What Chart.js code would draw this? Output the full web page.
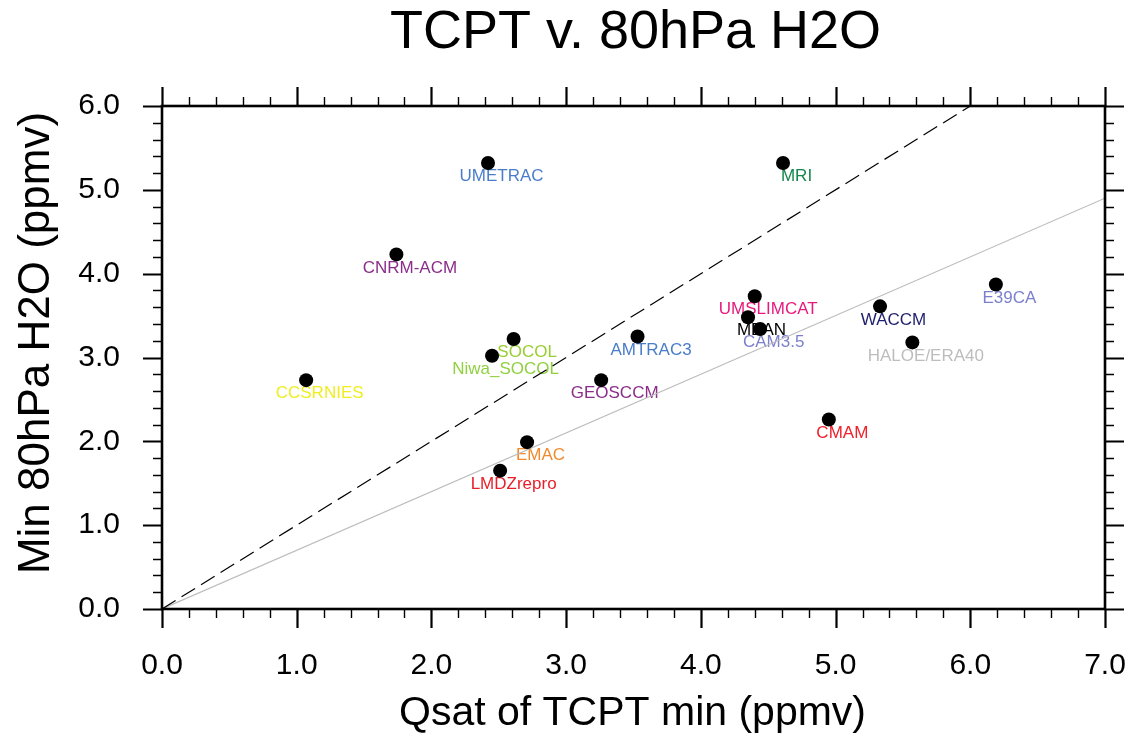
<!DOCTYPE html>
<html>
<head>
<meta charset="utf-8">
<title>TCPT v. 80hPa H2O</title>
<script src="https://cdn.jsdelivr.net/npm/chart.js@4.4.1/dist/chart.umd.min.js"></script>
<style>
  html, body { margin: 0; padding: 0; background: #ffffff; }
  canvas { display: block; }
</style>
</head>
<body>
<canvas id="chart" width="1131" height="742"></canvas>
<script>
// Model names, Qsat at the cold-point minimum (x) and min 80 hPa water vapour (y), ppmv
const models = ['UMETRAC', 'MRI', 'CNRM-ACM', 'E39CA', 'UMSLIMCAT', 'WACCM', 'MEAN',
  'CAM3.5', 'AMTRAC3', 'SOCOL', 'Niwa_SOCOL', 'CCSRNIES', 'GEOSCCM', 'HALOE/ERA40',
  'CMAM', 'EMAC', 'LMDZrepro'];
const qsatMin = [2.42, 4.61, 1.74, 6.19, 4.40, 5.33, 4.35,
  4.44, 3.53, 2.61, 2.45, 1.07, 3.26, 5.57,
  4.95, 2.71, 2.51];
const h2oMin = [5.32, 5.32, 4.23, 3.87, 3.73, 3.61, 3.48,
  3.34, 3.25, 3.22, 3.02, 2.73, 2.73, 3.18,
  2.26, 1.99, 1.65];
const labelColors = ['#4a7dc9', '#14874a', '#8b2e8b', '#7b7fcc', '#e8197d', '#1f1f6e', '#000000',
  '#7b7fcc', '#4a7dc9', '#9acd32', '#8fd13f', '#eeee22', '#8b2e8b', '#bdbdbd',
  '#f0202a', '#f28a2e', '#e8202a'];

// Reference lines: 1:1 line and a 0.7 slope line through the origin
const oneToOneX = [0, 6];
const oneToOneY = [0, 6];
const slopeLineX = [0, 7];
const slopeLineY = [0, 4.9];

// Axis ranges and tick spacing
const xRange = [0, 7];
const yRange = [0, 6];
const majorStep = 1;
const minorStep = 0.2;

const FONT = '"Liberation Sans", Arial, Helvetica, sans-serif';
const titleText = 'TCPT v. 80hPa H2O';
const xTitleText = 'Qsat of TCPT min (ppmv)';
const yTitleText = 'Min 80hPa H2O (ppmv)';

const toXY = (xs, ys) => xs.map((x, i) => ({ x: x, y: ys[i] }));

// Point labels: drawn below-right of each marker, underneath the markers
const pointLabels = {
  id: 'pointLabels',
  beforeDatasetsDraw(chart) {
    const ctx = chart.ctx;
    const meta = chart.getDatasetMeta(0);
    ctx.save();
    ctx.font = '17px ' + FONT;
    ctx.textAlign = 'center';
    ctx.textBaseline = 'middle';
    meta.data.forEach((pt, i) => {
      ctx.fillStyle = labelColors[i];
      ctx.fillText(models[i], pt.x + 13.5, pt.y + 13.5);
    });
    ctx.restore();
  }
};

// Frame, outward ticks on all four sides and the titles
const frameAndTitles = {
  id: 'frameAndTitles',
  afterDraw(chart) {
    const ctx = chart.ctx;
    const xs = chart.scales.x, ys = chart.scales.y;
    const a = chart.chartArea;
    ctx.save();
    ctx.strokeStyle = '#000';
    ctx.lineCap = 'butt';

    const majLen = 19, minLen = 9;
    const isMajor = v => Math.abs(v - Math.round(v / majorStep) * majorStep) < 1e-6;

    // x ticks (bottom and top)
    for (let k = 0; k <= Math.round((xRange[1] - xRange[0]) / minorStep); k++) {
      const v = xRange[0] + k * minorStep;
      const px = Math.round(xs.getPixelForValue(v)) + 0.5;
      const major = isMajor(v);
      const len = major ? majLen : minLen;
      ctx.lineWidth = major ? 2.2 : 1.4;
      ctx.beginPath();
      ctx.moveTo(px, a.bottom); ctx.lineTo(px, a.bottom + len);
      ctx.moveTo(px, a.top); ctx.lineTo(px, a.top - len);
      ctx.stroke();
    }
    // y ticks (left and right)
    for (let k = 0; k <= Math.round((yRange[1] - yRange[0]) / minorStep); k++) {
      const v = yRange[0] + k * minorStep;
      const py = Math.round(ys.getPixelForValue(v)) + 0.5;
      const major = isMajor(v);
      const len = major ? majLen : minLen;
      ctx.lineWidth = major ? 2.2 : 1.4;
      ctx.beginPath();
      ctx.moveTo(a.left, py); ctx.lineTo(a.left - len, py);
      ctx.moveTo(a.right, py); ctx.lineTo(a.right + len, py);
      ctx.stroke();
    }
    // frame
    ctx.lineWidth = 2.6;
    ctx.strokeRect(a.left, a.top, a.right - a.left, a.bottom - a.top);

    // titles
    ctx.fillStyle = '#000';
    ctx.textAlign = 'center';
    ctx.textBaseline = 'alphabetic';
    ctx.font = '54px ' + FONT;
    ctx.fillText(titleText, (a.left + a.right) / 2 + 2, 48);

    ctx.font = '41px ' + FONT;
    ctx.fillText(xTitleText, (a.left + a.right) / 2 - 1, 725);

    ctx.font = '44px ' + FONT;
    ctx.translate(49, 343);
    ctx.rotate(-Math.PI / 2);
    ctx.fillText(yTitleText, 0, 0);
    ctx.restore();
  }
};

const tickFmt = v => Number(v).toFixed(1);

new Chart(document.getElementById('chart'), {
  type: 'scatter',
  data: {
    datasets: [
      {
        label: 'models',
        data: toXY(qsatMin, h2oMin),
        backgroundColor: '#000000',
        borderWidth: 0,
        pointRadius: 7,
        pointHoverRadius: 7,
        order: 0
      },
      {
        label: '1:1',
        type: 'line',
        data: toXY(oneToOneX, oneToOneY),
        showLine: true,
        borderColor: '#000000',
        borderWidth: 1.2,
        borderDash: [16, 7],
        pointRadius: 0,
        fill: false,
        order: 1
      },
      {
        label: 'slope 0.7',
        type: 'line',
        data: toXY(slopeLineX, slopeLineY),
        showLine: true,
        borderColor: '#bdbdbd',
        borderWidth: 1.2,
        pointRadius: 0,
        fill: false,
        order: 2
      }
    ]
  },
  options: {
    responsive: false,
    animation: false,
    devicePixelRatio: 1,
    layout: { padding: { top: 106, right: 26, bottom: 0, left: 0 } },
    plugins: {
      legend: { display: false },
      title: { display: false },
      tooltip: { enabled: false }
    },
    scales: {
      x: {
        type: 'linear',
        min: xRange[0],
        max: xRange[1],
        grid: { display: false, drawTicks: false },
        border: { display: false },
        ticks: {
          stepSize: majorStep,
          callback: tickFmt,
          font: { size: 30, family: FONT },
          color: '#000',
          padding: 39,
          maxRotation: 0,
          autoSkip: false
        },
        afterFit(scale) {
          scale.height = 133;
          scale.paddingLeft = 0;
          scale.paddingRight = 0;
        }
      },
      y: {
        type: 'linear',
        min: yRange[0],
        max: yRange[1],
        grid: { display: false, drawTicks: false },
        border: { display: false },
        ticks: {
          stepSize: majorStep,
          callback: tickFmt,
          font: { size: 30, family: FONT },
          color: '#000',
          padding: 42,
          autoSkip: false
        },
        afterFit(scale) {
          scale.width = 162;
          scale.paddingTop = 0;
          scale.paddingBottom = 0;
        }
      }
    }
  },
  plugins: [pointLabels, frameAndTitles]
});
</script>
</body>
</html>
